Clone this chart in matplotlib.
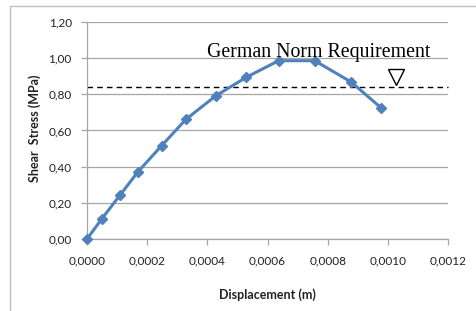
import matplotlib
matplotlib.use("Agg")
import matplotlib.pyplot as plt
from matplotlib.patches import Rectangle
from matplotlib.ticker import FuncFormatter, MultipleLocator

# Data
displacement = [0.0, 0.000049, 0.000110, 0.000169, 0.000248, 0.000329,
                0.000429, 0.000529, 0.000637, 0.000757, 0.000878, 0.000977]
shear_stress = [0.0, 0.111, 0.243, 0.371, 0.516, 0.662,
                0.793, 0.894, 0.986, 0.986, 0.868, 0.726]
norm_requirement = 0.84
norm_label = "German Norm Requirement"
x_label = "Displacement (m)"
y_label = "Shear  Stress (MPa)"

W, H = 476, 311
fig = plt.figure(figsize=(W / 100, H / 100), dpi=100)
ax = fig.add_axes([87 / W, 1 - 239 / H, (448 - 87) / W, (239 - 22) / H])

tick_font = "Lato"
grid_c = "#A6A6A6"

ax.set_xlim(0, 0.0012)
ax.set_ylim(0, 1.2)
ax.xaxis.set_major_locator(MultipleLocator(0.0002))
ax.yaxis.set_major_locator(MultipleLocator(0.2))
ax.xaxis.set_major_formatter(FuncFormatter(lambda v, p: f"{v:.4f}".replace(".", ",")))
ax.yaxis.set_major_formatter(FuncFormatter(lambda v, p: f"{v:.2f}".replace(".", ",")))

ax.grid(axis="y", color=grid_c, linewidth=0.9)
ax.set_axisbelow(True)
for s in ["top", "right"]:
    ax.spines[s].set_visible(False)
for s in ["left", "bottom"]:
    ax.spines[s].set_color(grid_c)
    ax.spines[s].set_linewidth(0.9)
ax.tick_params(axis="both", colors=grid_c, length=4, width=0.9, labelcolor="#222222")
ax.tick_params(axis="x", pad=8)
ax.tick_params(axis="y", pad=7)
for lab in ax.get_xticklabels() + ax.get_yticklabels():
    lab.set_fontfamily(tick_font)
    lab.set_fontsize(8.5)

ax.plot(displacement, shear_stress, color="#4F81BD", linewidth=2.2,
        marker="D", markersize=5.5, markerfacecolor="#4F81BD",
        markeredgecolor="#4F81BD", clip_on=False, zorder=3)

ax.axhline(norm_requirement, color="black", linestyle=(0, (4, 3)),
           linewidth=1.0, xmax=1.0, clip_on=False, zorder=2)

ax.text(0.000398, 1.004, norm_label, fontfamily="Liberation Serif",
        fontsize=14.3, ha="left", va="baseline", color="black", zorder=4)
ax.plot([0.001028], [norm_requirement + 0.055], marker="v", markersize=12,
        markerfacecolor="white", markeredgecolor="black", markeredgewidth=1.0,
        linestyle="none", zorder=4)

fig.text(267 / W, 1 - 295 / H, x_label, ha="center", va="center",
         fontfamily=tick_font, fontweight="bold", fontsize=9, color="#222222")
fig.text(35 / W, 1 - 128 / H, y_label, ha="center", va="center", rotation=90,
         fontfamily=tick_font, fontweight="bold", fontsize=9, color="#222222")

fig.patches.append(Rectangle((10 / W, -0.1), 1.2, (H - 6) / H + 0.1,
                             transform=fig.transFigure, fill=False,
                             edgecolor="#BFBFBF", linewidth=1.0))

fig.savefig("out.png", dpi=100)
